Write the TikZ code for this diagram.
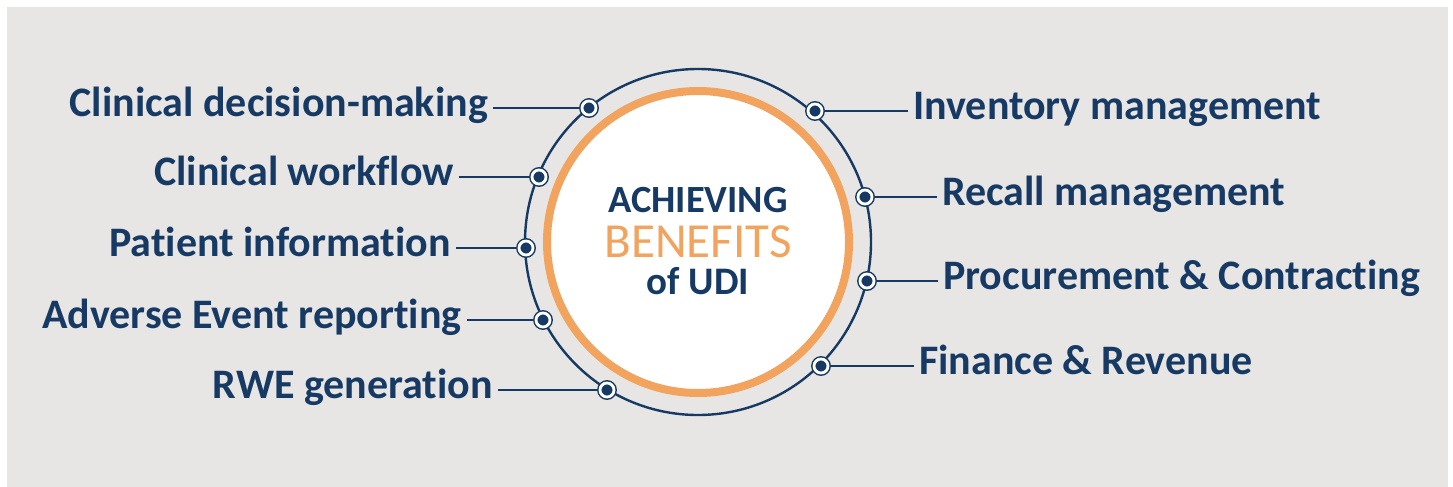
\documentclass[tikz,border=0pt]{standalone}
\usepackage{fontspec}
\setmainfont{Carlito}[Ligatures=NoCommon]
\usetikzlibrary{positioning,calc}
\definecolor{udinavy}{HTML}{173A64}
\definecolor{udiorange}{HTML}{F2A35E}
\definecolor{udigray}{HTML}{E7E6E5}

\tikzset{
  benefit/.style={font=\bfseries\fontsize{42}{46}\selectfont, text=udinavy, inner sep=0pt, inner xsep=5pt, text height=29pt, text depth=13pt},
  hubtext/.style={inner sep=0pt, anchor=base, text depth=0pt},
  spoke/.style={draw=udinavy, line width=2.4pt},
  dot/.style={circle, minimum size=14pt, inner sep=0pt, draw=udinavy, line width=1.5pt, double=white, double distance=2.8pt, fill=udinavy}
}

\begin{document}
\begin{tikzpicture}[x=1pt,y=-1pt]
\useasboundingbox (0,0) rectangle (1453,487);
\fill[udigray] (7,7) rectangle (1448,487);

% hub
\coordinate (hub) at (698,242);
\draw[udinavy, line width=2.4pt] (hub) circle (173);
\draw[udiorange, line width=8pt, fill=white] (hub) circle (151);
\node[hubtext, text height=25pt, font=\bfseries\fontsize{38.5}{42}\selectfont, text=udinavy] (ach) at (698,212) {ACHIEVING};
\node[hubtext, text height=32pt, font=\fontsize{49}{52}\selectfont, text=udiorange] (ben) at (698,257) {BENEFITS};
\node[hubtext, text height=26pt, font=\bfseries\fontsize{39}{42}\selectfont, text=udinavy] (udi) at (698,294) {of UDI};

% dots on the ring
\coordinate (d1) at ($(hub)+(-109,-134)$);
\coordinate (d2) at ($(hub)+(-159,-65)$);
\coordinate (d3) at ($(hub)+(-172,6)$);
\coordinate (d4) at ($(hub)+(-155,78)$);
\coordinate (d5) at ($(hub)+(-91,148)$);
\coordinate (d6) at ($(hub)+(117,-131)$);
\coordinate (d7) at ($(hub)+(167,-45)$);
\coordinate (d8) at ($(hub)+(169,39)$);
\coordinate (d9) at ($(hub)+(123,124)$);

% labels
\node[benefit, anchor=east] (t1) at (493,108) {Clinical decision-making};
\node[benefit, anchor=east] (t2) at (459,177) {Clinical workflow};
\node[benefit, anchor=east] (t3) at (456,248) {Patient information};
\node[benefit, anchor=east] (t4) at (467,320) {Adverse Event reporting};
\node[benefit, anchor=east] (t5) at (498,390) {RWE generation};
\node[benefit, anchor=west] (t6) at (908,111) {Inventory management};
\node[benefit, anchor=west] (t7) at (937,197) {Recall management};
\node[benefit, anchor=west] (t8) at (938,281) {Procurement \& Contracting};
\node[benefit, anchor=west] (t9) at (914,366) {Finance \& Revenue};

% spokes
\foreach \i in {1,...,5}
  \draw[spoke] (t\i.east |- d\i) -- (d\i);
\foreach \i in {6,...,9}
  \draw[spoke] (d\i) -- (t\i.west |- d\i);
\foreach \i in {1,...,9}
  \node[dot] (p\i) at (d\i) {};

\end{tikzpicture}
\end{document}
